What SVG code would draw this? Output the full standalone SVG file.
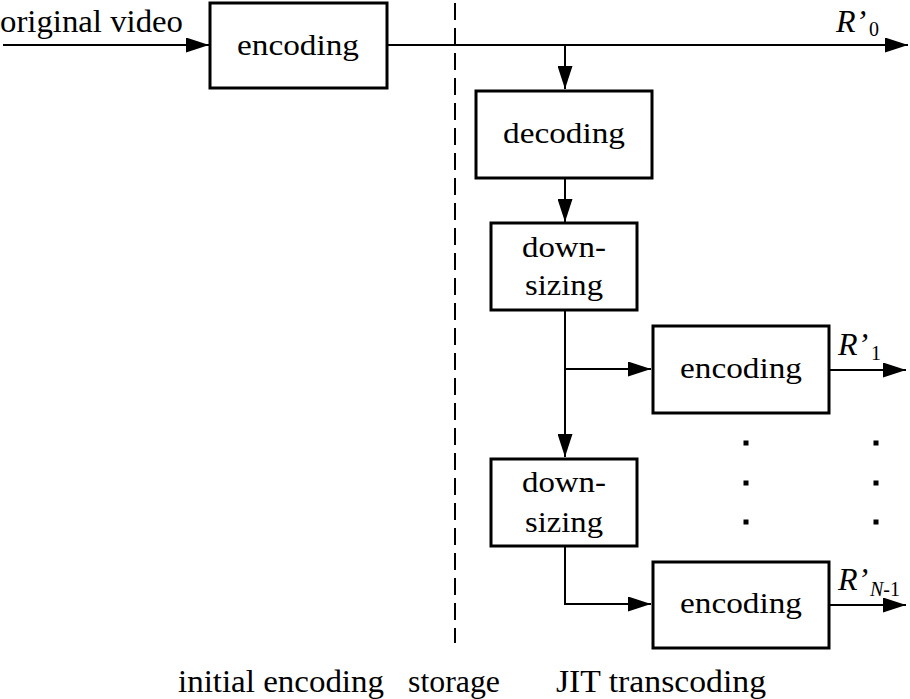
<svg xmlns="http://www.w3.org/2000/svg" width="910" height="699" viewBox="0 0 910 699">
<style>
.box{fill:#fff;stroke:#000;stroke-width:3}
.ln{fill:none;stroke:#000;stroke-width:2}
.bt{font-family:"Liberation Serif",serif;font-size:29px;text-anchor:middle;fill:#000}
.lt{font-family:"Liberation Serif",serif;font-size:32px;fill:#000}
.rl{font-family:"Liberation Serif",serif;font-size:32px;font-style:italic;fill:#000}
.sub{font-family:"Liberation Serif",serif;font-size:20px;fill:#000}
.dot{fill:#000}
</style>
<defs>
<marker id="ah" markerUnits="userSpaceOnUse" markerWidth="23" markerHeight="15" refX="23" refY="7.5" orient="auto">
<path d="M0,0 L23,7.5 L0,15 z" fill="#000"/>
</marker>
</defs>
<rect width="910" height="699" fill="#fff"/>
<line x1="455" y1="3" x2="455" y2="643" stroke="#000" stroke-width="2" stroke-dasharray="17 8"/>
<g id="connectors">
<path class="ln" d="M3,45 H209" marker-end="url(#ah)"/>
<path class="ln" d="M388,45 H908" marker-end="url(#ah)"/>
<path class="ln" d="M565,45 V89" marker-end="url(#ah)"/>
<path class="ln" d="M565,179 V222" marker-end="url(#ah)"/>
<path class="ln" d="M565,311 V457" marker-end="url(#ah)"/>
<path class="ln" d="M565,369 H651" marker-end="url(#ah)"/>
<path class="ln" d="M830,370 H906" marker-end="url(#ah)"/>
<path class="ln" d="M565,547 V604 H651" marker-end="url(#ah)"/>
<path class="ln" d="M830,605 H906" marker-end="url(#ah)"/>
</g>
<g id="enc0">
<rect class="box" x="210" y="3" width="177" height="85"/>
<text class="bt" x="298" y="55" textLength="122" lengthAdjust="spacingAndGlyphs">encoding</text>
</g>
<g id="dec">
<rect class="box" x="476" y="91" width="176" height="87"/>
<text class="bt" x="564" y="143" textLength="122" lengthAdjust="spacingAndGlyphs">decoding</text>
</g>
<g id="ds1">
<rect class="box" x="491" y="223" width="146" height="87"/>
<text class="bt" x="564" y="257" textLength="84" lengthAdjust="spacingAndGlyphs">down-</text>
<text class="bt" x="564" y="295" textLength="78" lengthAdjust="spacingAndGlyphs">sizing</text>
</g>
<g id="enc1">
<rect class="box" x="653" y="326" width="176" height="87"/>
<text class="bt" x="741" y="378" textLength="122" lengthAdjust="spacingAndGlyphs">encoding</text>
</g>
<g id="ds2">
<rect class="box" x="491" y="459" width="146" height="87"/>
<text class="bt" x="564" y="492" textLength="84" lengthAdjust="spacingAndGlyphs">down-</text>
<text class="bt" x="564" y="532" textLength="78" lengthAdjust="spacingAndGlyphs">sizing</text>
</g>
<g id="enc2">
<rect class="box" x="653" y="562" width="176" height="86"/>
<text class="bt" x="741" y="613" textLength="122" lengthAdjust="spacingAndGlyphs">encoding</text>
</g>
<g id="labels">
<text class="lt" x="0" y="32" textLength="183" lengthAdjust="spacingAndGlyphs">original video</text>
<text class="rl" x="836" y="32">R’</text><text class="sub" x="869" y="36">0</text>
<text class="rl" x="838" y="355">R’</text><text class="sub" x="871" y="360">1</text>
<text class="rl" x="838" y="590">R’</text><text class="sub" x="870" y="596"><tspan font-style="italic">N</tspan>-1</text>
<text class="lt" x="178" y="692" textLength="206" lengthAdjust="spacingAndGlyphs">initial encoding</text>
<text class="lt" x="408" y="692" textLength="92" lengthAdjust="spacingAndGlyphs">storage</text>
<text class="lt" x="556" y="692" textLength="210" lengthAdjust="spacingAndGlyphs">JIT transcoding</text>
</g>
<g id="dots">
<rect class="dot" x="743.5" y="440.5" width="5" height="5"/>
<rect class="dot" x="743.5" y="480.5" width="5" height="5"/>
<rect class="dot" x="743.5" y="519.5" width="5" height="5"/>
<rect class="dot" x="873.5" y="440.5" width="5" height="5"/>
<rect class="dot" x="873.5" y="480.5" width="5" height="5"/>
<rect class="dot" x="873.5" y="519.5" width="5" height="5"/>
</g>
</svg>
